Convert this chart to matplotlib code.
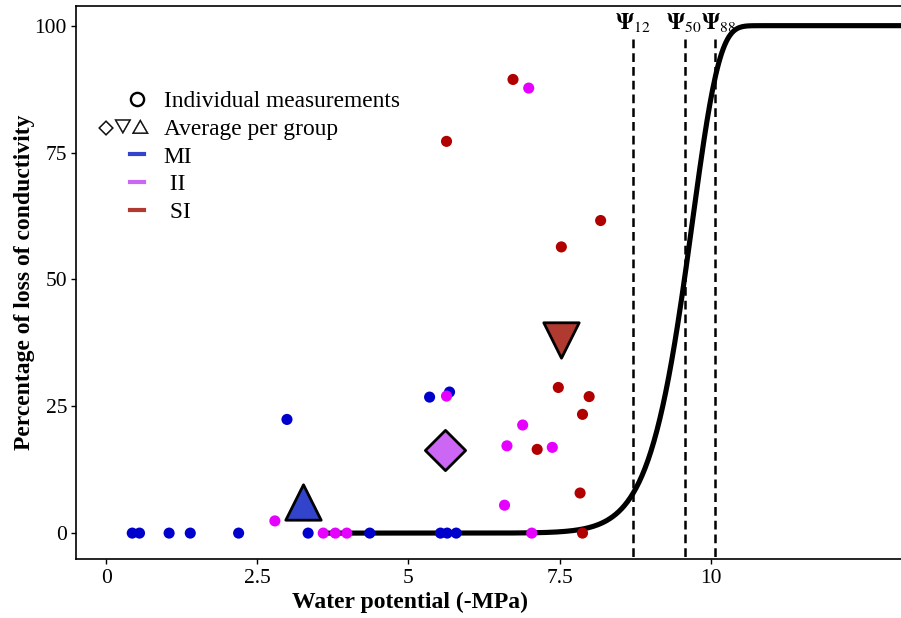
import matplotlib
matplotlib.use("Agg")
import matplotlib.pyplot as plt
import numpy as np
from matplotlib.lines import Line2D

plt.rcParams['font.family'] = ['Liberation Serif', 'DejaVu Serif']
plt.rcParams['mathtext.fontset'] = 'stix'

# individual measurements (water potential -MPa, % loss of conductivity)
mi_x = [0.43, 0.55, 1.04, 1.39, 2.19, 2.99, 3.34, 4.36, 5.35, 5.68, 5.53, 5.64, 5.79]
mi_y = [0, 0, 0, 0, 0, 22.4, 0, 0, 26.8, 27.8, 0, 0, 0]
ii_x = [2.79, 3.59, 3.79, 3.98, 5.63, 6.63, 6.89, 7.38, 6.59, 7.04, 6.99]
ii_y = [2.4, 0, 0, 0, 27.0, 17.2, 21.3, 16.9, 5.5, 0, 87.7]
si_x = [5.63, 6.73, 7.13, 7.48, 7.99, 7.88, 7.84, 7.88, 8.18, 7.53]
si_y = [77.2, 89.4, 16.5, 28.7, 26.9, 23.4, 7.9, 0, 61.6, 56.4]

# group averages (MI, II, SI)
avg_x = [3.26, 5.60, 7.52]
avg_y = [6.2, 16.3, 38.1]

# vulnerability curve (Weibull fit) and thresholds
psi_vals = [8.71, 9.57, 10.07]
psi_names = ['12', '50', '88']
weib_b, weib_c = 9.72, 23.0

fig = plt.figure(figsize=(9.01, 6.18), dpi=100)
ax = fig.add_axes([0.0844, 0.0955, 0.9156, 0.895])

dot_cols = ['#0000cc', '#e600ff', '#b00000']
avg_cols = ['#3344cc', '#cc66f5', '#b03a30']
avg_marks = ['^', 'D', 'v']
avg_sizes = [650, 420, 650]

xc = np.linspace(3.58, 13.3, 400)
yc = 100 * (1 - np.exp(-(xc / weib_b) ** weib_c))
ax.plot(xc, yc, color='black', lw=3.7, zorder=2, solid_capstyle='butt')

for xs, ys, c in [(mi_x, mi_y, dot_cols[0]), (ii_x, ii_y, dot_cols[1]), (si_x, si_y, dot_cols[2])]:
    ax.scatter(xs, ys, s=64, color=c, edgecolors='none', zorder=3)

for i in range(3):
    ax.scatter(avg_x[i], avg_y[i], s=avg_sizes[i], marker=avg_marks[i], color=avg_cols[i],
               edgecolors='black', linewidths=2, zorder=4)

# little nudges so the three labels don't collide
label_shift = [0, -1, 4]
for p, n, dx in zip(psi_vals, psi_names, label_shift):
    ax.plot([p, p], [-10, 97.5], color='black', lw=1.8, dashes=(3.5, 2), zorder=1)
    ax.annotate(r'$\mathbf{\Psi}_{%s}$' % n, (p, 99.3), xytext=(dx, 0), textcoords='offset pixels',
                ha='center', va='baseline', fontsize=16)

ax.set_xlim(-0.5, 13.15)
ax.set_ylim(-5.1, 103.9)
ax.set_xticks([0, 2.5, 5, 7.5, 10])
ax.set_xticklabels(['0', '2.5', '5', '7.5', '10'])
ax.set_yticks([0, 25, 50, 75, 100])
ax.tick_params(labelsize=15.5, length=3.5, width=1)
ax.tick_params(axis='y', pad=3)
ax.spines['right'].set_visible(False)
for s in ['left', 'top', 'bottom']:
    ax.spines[s].set_linewidth(1.2)
ax.set_xlabel('Water potential (-MPa)', fontsize=17, fontweight='bold', va='top')
ax.xaxis.set_label_coords(0.405, -0.06)
ax.set_ylabel('Percentage of loss of conductivity', fontsize=17, fontweight='bold')
ax.yaxis.set_label_coords(-0.05, 0.5)

handles = [
    Line2D([], [], ls='none', marker='o', mfc='none', mec='black', mew=1.7, ms=9.5),
    Line2D([], [], ls='none', marker='$\u25C7\u25BD\u25B3$', color='black', ms=36, mew=0.3),
    Line2D([], [], color=avg_cols[0], lw=3),
    Line2D([], [], color=avg_cols[1], lw=3),
    Line2D([], [], color=avg_cols[2], lw=3),
]
labels = ['Individual measurements', 'Average per group', 'MI', ' II', ' SI']
leg = ax.legend(handles, labels, loc='upper left', bbox_to_anchor=(0.051, 0.868), frameon=False,
                fontsize=16.8, handlelength=0.6, handletextpad=0.85, labelspacing=0.28, borderpad=0)
# push the group-average symbols left of the handle column
h = leg.legend_handles[1]
h.set_xdata(np.asarray(h.get_xdata(), dtype=float) - 10)

fig.savefig('out.png', dpi=100)
